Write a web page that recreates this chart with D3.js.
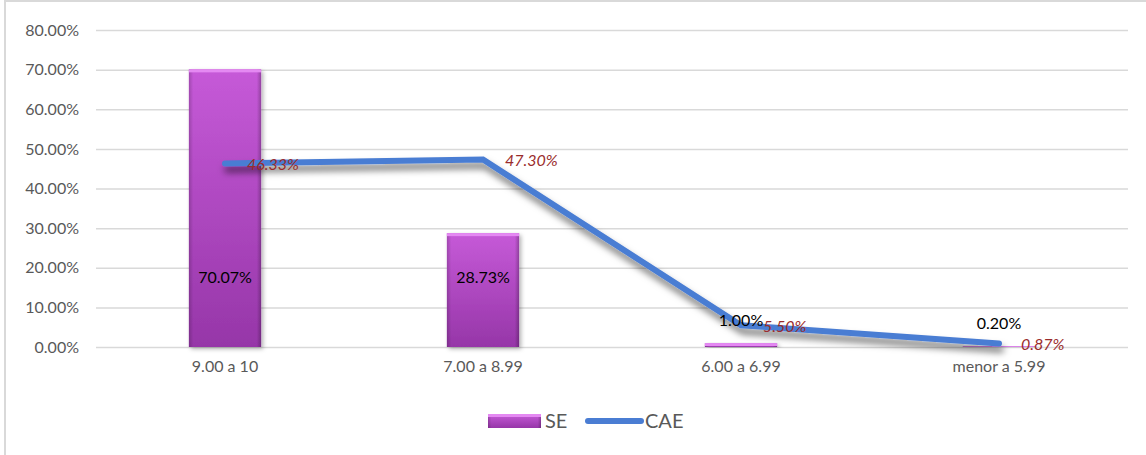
<!DOCTYPE html>
<html>
<head>
<meta charset="utf-8">
<script src="https://cdn.jsdelivr.net/npm/d3@7/dist/d3.min.js"></script>
<style>
  html, body { margin: 0; padding: 0; background: #fff; }
  svg { display: block; }
  text { font-family: Lato, "Open Sans", sans-serif; }
</style>
</head>
<body>
<svg id="chart" width="1146" height="455"></svg>
<script>
const categories = ["9.00 a 10", "7.00 a 8.99", "6.00 a 6.99", "menor a 5.99"];
const seValues = [70.07, 28.73, 1.00, 0.20];
const caeValues = [46.33, 47.30, 5.50, 0.87];
const yTicks = [0, 10, 20, 30, 40, 50, 60, 70, 80];
const seriesNames = ["SE", "CAE"];

const svg = d3.select("#chart");
const W = 1146, H = 455;
const margin = { left: 96, right: 18, top: 30, bottom: 108 };

const x = d3.scaleBand().domain(categories).range([margin.left, W - margin.right]).padding(0);
const y = d3.scaleLinear().domain([0, 80]).range([H - margin.bottom, margin.top]);
const fmt = v => v.toFixed(2) + "%";

const defs = svg.append("defs");
const grad = defs.append("linearGradient").attr("id", "barGrad").attr("x1", 0).attr("y1", 0).attr("x2", 0).attr("y2", 1);
grad.append("stop").attr("offset", "0%").attr("stop-color", "#c65ad8");
grad.append("stop").attr("offset", "100%").attr("stop-color", "#9636a8");
const edge = defs.append("linearGradient").attr("id", "edgeGrad").attr("x1", 0).attr("y1", 0).attr("x2", 1).attr("y2", 0);
edge.append("stop").attr("offset", "0%").attr("stop-color", "#000").attr("stop-opacity", 0.18);
edge.append("stop").attr("offset", "6%").attr("stop-color", "#000").attr("stop-opacity", 0);
edge.append("stop").attr("offset", "94%").attr("stop-color", "#000").attr("stop-opacity", 0);
edge.append("stop").attr("offset", "100%").attr("stop-color", "#000").attr("stop-opacity", 0.25);
const shadow = defs.append("filter").attr("id", "lineShadow").attr("x", "-10%").attr("y", "-50%").attr("width", "120%").attr("height", "200%");
shadow.append("feDropShadow").attr("dx", 2).attr("dy", 6).attr("stdDeviation", 3.5).attr("flood-color", "#000").attr("flood-opacity", 0.55);
const bshadow = defs.append("filter").attr("id", "barShadow").attr("x", "-20%").attr("y", "-10%").attr("width", "140%").attr("height", "120%");
bshadow.append("feDropShadow").attr("dx", 2).attr("dy", 2).attr("stdDeviation", 2).attr("flood-color", "#000").attr("flood-opacity", 0.3);

// chart border
svg.append("line").attr("x1", 5).attr("x2", 5).attr("y1", 0).attr("y2", H).attr("stroke", "#d9d9d9").attr("stroke-width", 2);
svg.append("line").attr("x1", 5).attr("x2", W).attr("y1", 1).attr("y2", 1).attr("stroke", "#d9d9d9").attr("stroke-width", 2);

// gridlines + y labels
const yAxis = d3.axisLeft(y).tickValues(yTicks).tickSize(-(W - margin.left - margin.right)).tickPadding(17).tickFormat(fmt);
const gy = svg.append("g").attr("transform", `translate(${margin.left},0)`).call(yAxis);
gy.select(".domain").remove();
gy.selectAll(".tick line").attr("stroke", "#d9d9d9").attr("stroke-width", 1.5);
gy.selectAll(".tick text").attr("fill", "#595959").attr("font-size", 16);

// x labels
const xAxis = d3.axisBottom(x).tickSize(0).tickPadding(14);
const gx = svg.append("g").attr("transform", `translate(0,${y(0)})`).call(xAxis);
gx.select(".domain").remove();
gx.selectAll(".tick text").attr("fill", "#595959").attr("font-size", 16);

// bars
const bw = x.bandwidth() * 0.28;
const bars = svg.append("g").selectAll("g").data(categories).join("g");
bars.append("rect")
  .attr("x", d => x(d) + x.bandwidth() / 2 - bw / 2)
  .attr("y", (d, i) => y(seValues[i]))
  .attr("width", bw)
  .attr("height", (d, i) => y(0) - y(seValues[i]))
  .attr("fill", "url(#barGrad)")
  .attr("filter", "url(#barShadow)");
bars.append("rect")
  .attr("x", d => x(d) + x.bandwidth() / 2 - bw / 2)
  .attr("y", (d, i) => y(seValues[i]))
  .attr("width", bw)
  .attr("height", (d, i) => y(0) - y(seValues[i]))
  .attr("fill", "url(#edgeGrad)");
bars.append("rect")
  .attr("x", d => x(d) + x.bandwidth() / 2 - bw / 2)
  .attr("y", (d, i) => y(seValues[i]))
  .attr("width", bw)
  .attr("height", (d, i) => Math.min(3, y(0) - y(seValues[i])))
  .attr("fill", "#e489f2");

// line
const line = d3.line().x((d, i) => x(categories[i]) + x.bandwidth() / 2).y(d => y(d));
svg.append("path").datum(caeValues)
  .attr("d", line)
  .attr("fill", "none")
  .attr("stroke", "#4a7dd3")
  .attr("stroke-width", 6)
  .attr("stroke-linecap", "round")
  .attr("stroke-linejoin", "miter")
  .attr("filter", "url(#lineShadow)");

// bar labels
svg.append("g").selectAll("text").data(seValues).join("text")
  .attr("x", (d, i) => x(categories[i]) + x.bandwidth() / 2)
  .attr("y", d => Math.max(y(d) - 23, y(17.5)))
  .attr("dy", "0.35em")
  .attr("text-anchor", "middle")
  .attr("font-size", 16)
  .attr("fill", "#000")
  .text(fmt);

// line labels
svg.append("g").selectAll("text").data(caeValues).join("text")
  .attr("x", (d, i) => x(categories[i]) + x.bandwidth() / 2 + 22)
  .attr("y", d => y(d) + 1)
  .attr("dy", "0.35em")
  .attr("font-size", 16)
  .attr("font-style", "italic")
  .attr("fill", "#9a2c2c")
  .text(fmt);

// legend
const lg = svg.append("g");
lg.append("rect").attr("x", 488).attr("y", 414).attr("width", 53).attr("height", 14).attr("fill", "url(#barGrad)");
lg.append("rect").attr("x", 488).attr("y", 414).attr("width", 53).attr("height", 14).attr("fill", "url(#edgeGrad)");
lg.append("rect").attr("x", 488).attr("y", 414).attr("width", 53).attr("height", 3).attr("fill", "#e489f2");
lg.append("text").attr("x", 545).attr("y", 421).attr("dy", "0.35em").attr("font-size", 20).attr("fill", "#595959").text(seriesNames[0]);
lg.append("line").attr("x1", 588).attr("x2", 641).attr("y1", 421).attr("y2", 421).attr("stroke", "#4a7dd3").attr("stroke-width", 6).attr("stroke-linecap", "round");
lg.append("text").attr("x", 645).attr("y", 421).attr("dy", "0.35em").attr("font-size", 20).attr("fill", "#595959").text(seriesNames[1]);
</script>
</body>
</html>
